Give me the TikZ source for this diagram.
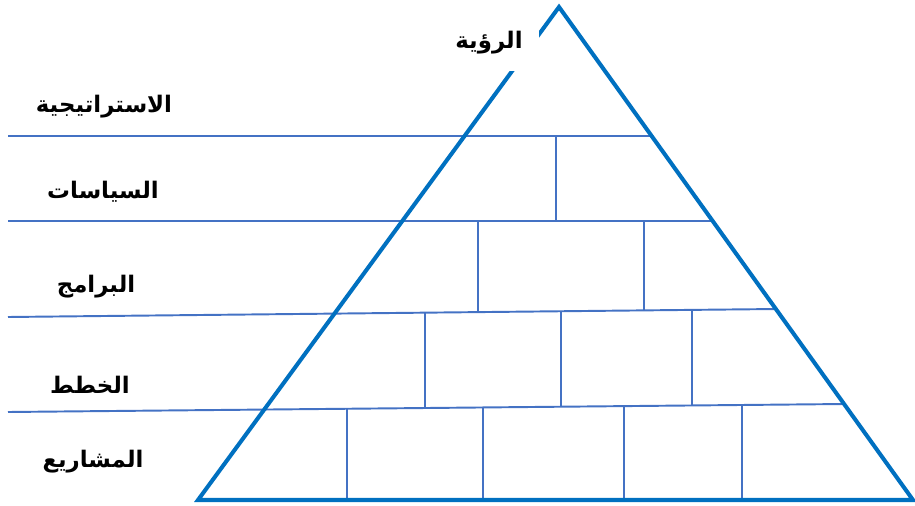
\documentclass[tikz,border=0pt]{standalone}
\usepackage{fontspec}
\newfontfamily\arabicfont[Script=Arabic]{DejaVu Sans}
\TeXXeTstate=1
\definecolor{pyrblue}{RGB}{0,112,192}
\definecolor{brickblue}{RGB}{68,114,196}
\tikzset{
  pyramid/.style={line width=2.3pt, draw=pyrblue, line join=miter},
  brick/.style={line width=1.1pt, draw=brickblue},
  levellabel/.style={font=\arabicfont\bfseries\fontsize{13}{15}\selectfont, inner sep=0pt},
  toplabel/.style={levellabel, fill=white, minimum width=2cm, minimum height=1.12cm},
}

\begin{document}
\begin{tikzpicture}[x=0.02cm, y=-0.02cm]
\useasboundingbox (0,0) rectangle (915,506);
% corners
\coordinate (apex) at (559,7);
\coordinate (baseL) at (198,500);
\coordinate (baseR) at (913,500);
% level lines
\draw[brick] (8,136) -- (651,136);
\draw[brick] (8,221) -- (713,221);
\draw[brick] (8,317) -- (777,309);
\draw[brick] (8,412) -- (845,404);
% joints
\draw[brick] (556,136) -- (556,221);
\foreach \x/\ya/\yb in {478/221/312.1, 644/221/310.4,
    425/312.7/408, 561/311.2/406.7, 692/309.9/405.5,
    347/408.8/500, 483/407.5/500, 624/406.1/500, 742/405/500}
  \draw[brick] (\x,\ya) -- (\x,\yb);
% pyramid
\draw[pyramid] (apex) -- (baseR) -- (baseL) -- cycle;
\node[toplabel] (vision) at (489,43) {\beginR الرؤية\endR};
\node[levellabel] (strategy) at (104,107) {\beginR الاستراتيجية\endR};
\node[levellabel] (policies) at (103,192) {\beginR السياسات\endR};
\node[levellabel] (programs) at (96,287) {\beginR البرامج\endR};
\node[levellabel] (plans) at (90,385) {\beginR الخطط\endR};
\node[levellabel] (projects) at (93,462) {\beginR المشاريع\endR};
\end{tikzpicture}
\end{document}
